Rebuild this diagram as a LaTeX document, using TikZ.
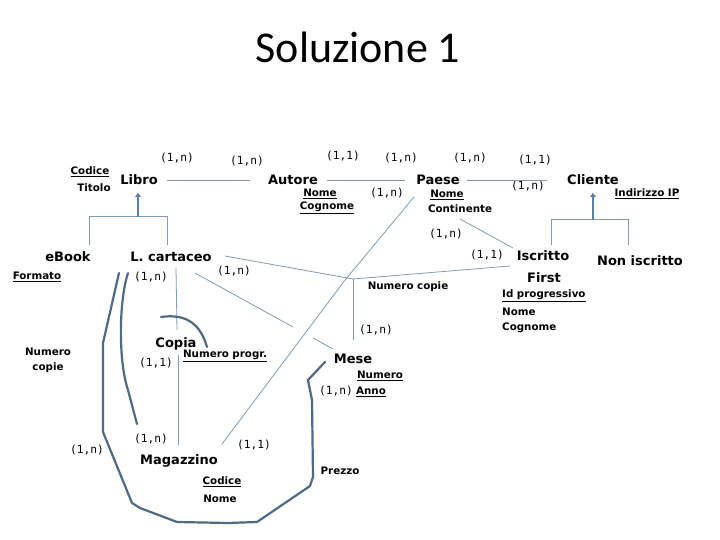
\documentclass[tikz,border=0pt]{standalone}
\usepackage{fontspec}
\setmainfont{DejaVu Sans}
\newfontfamily\titlefont{Carlito}
\newfontfamily\cardfont{DejaVu Sans Mono}
\usetikzlibrary{arrows.meta}
\definecolor{thinc}{HTML}{7F9CB3}
\definecolor{thickc}{HTML}{4D6A87}
\definecolor{genc}{HTML}{5A82A8}
\begin{document}
\begin{tikzpicture}[x=1pt,y=-1pt,
 ent/.style={font=\bfseries\fontsize{13}{15}\selectfont, inner sep=0pt},
 att/.style={font=\bfseries\fontsize{10.3}{12}\selectfont, inner sep=0pt},
 card/.style={font=\cardfont\fontsize{11.2}{13}\selectfont, inner sep=0pt},
 thinline/.style={draw=thinc, line width=0.8pt},
 thickline/.style={draw=thickc, line width=2.2pt, line join=round, line cap=round},
 genline/.style={draw=thinc, line width=1pt},
 genarrow/.style={draw=genc, line width=2.4pt, -{Triangle[length=4pt,width=6pt]}},
]
\useasboundingbox (0,0) rectangle (720,540);
\fill[white] (0,0) rectangle (720,540);

% title
\node[font=\titlefont\fontsize{44}{48}\selectfont, inner sep=0pt] (title) at (358,47) {Soluzione 1};

% entities
\node[ent] (libro) at (139,180) {Libro};
\node[ent] (autore) at (293,180) {Autore};
\node[ent] (paese) at (438,180) {Paese};
\node[ent] (cliente) at (593,180) {Cliente};
\node[ent] (ebook) at (68,257) {eBook};
\node[ent] (lcart) at (171,257) {L. cartaceo};
\node[ent] (iscritto) at (543,256) {Iscritto};
\node[ent] (first) at (544,278) {First};
\node[ent] (noniscr) at (640,261) {Non iscritto};
\node[ent] (copia) at (176,344) {Copia};
\node[ent] (mese) at (353,359) {Mese};
\node[ent] (magazzino) at (179,461) {Magazzino};

% attributes
\node[att] (a1) at (90,172) {\underline{Codice}};
\node[att] (a2) at (94,188) {Titolo};
\node[att] (a3) at (320,194) {\underline{Nome}};
\node[att] (a4) at (327,208) {\underline{Cognome}};
\node[att] (a5) at (447,195) {\underline{Nome}};
\node[att] (a6) at (460,209) {Continente};
\node[att] (a7) at (647,194) {\underline{Indirizzo IP}};
\node[att] (a8) at (37,277) {\underline{Formato}};
\node[att] (a9) at (408,287) {Numero copie};
\node[att, anchor=west] (a10) at (502,296) {\underline{Id progressivo}};
\node[att, anchor=west] (a11) at (502,312) {Nome};
\node[att, anchor=west] (a12) at (502,328) {Cognome};
\node[att] (a13) at (48,352) {Numero};
\node[att] (a14) at (48,368) {copie};
\node[att] (a15) at (225,356) {\underline{Numero progr.}};
\node[att] (a16) at (380,376) {\underline{Numero}};
\node[att] (a17) at (371,392) {\underline{Anno}};
\node[att] (a18) at (340,471) {Prezzo};
\node[att] (a19) at (222,482) {\underline{Codice}};
\node[att] (a20) at (220,499) {Nome};

% cardinalities
\node[card] (c1) at (177,158) {(1,n)};
\node[card] (c2) at (247,161) {(1,n)};
\node[card] (c3) at (343,156) {(1,1)};
\node[card] (c4) at (401,158) {(1,n)};
\node[card] (c5) at (470,158) {(1,n)};
\node[card] (c6) at (387,193) {(1,n)};
\node[card] (c7) at (535,160) {(1,1)};
\node[card] (c8) at (528,186) {(1,n)};
\node[card] (c9) at (446,234) {(1,n)};
\node[card] (c10) at (151,277) {(1,n)};
\node[card] (c11) at (234,271) {(1,n)};
\node[card] (c12) at (487,255) {(1,1)};
\node[card] (c13) at (156,363) {(1,1)};
\node[card] (c14) at (376,330) {(1,n)};
\node[card] (c15) at (336,391) {(1,n)};
\node[card] (c16) at (87,450) {(1,n)};
\node[card] (c17) at (151,439) {(1,n)};
\node[card] (c18) at (254,445) {(1,1)};

% coordinates for connectors
\coordinate (libR) at (167,180);
\coordinate (autL) at (250,180);
\coordinate (autR) at (327,180);
\coordinate (paeL) at (405,180);
\coordinate (paeR) at (467,180);
\coordinate (cliL) at (547,180);
\coordinate (libGb) at (138,217);
\coordinate (libGt) at (138,193);
\coordinate (libGl) at (89,217);
\coordinate (libGr) at (167,217);
\coordinate (ebT) at (89,245);
\coordinate (lcT) at (167,245);
\coordinate (cliGb) at (593,220);
\coordinate (cliGt) at (593,193);
\coordinate (cliGl) at (551,220);
\coordinate (cliGr) at (628,220);
\coordinate (isT) at (551,245);
\coordinate (niT) at (628,245);
\coordinate (paeS) at (460,219);
\coordinate (isW) at (513,248);
\coordinate (paeSW) at (414,197);
\coordinate (kink) at (345,280);
\coordinate (magNE) at (222,444);
\coordinate (lcE) at (225,256);
\coordinate (J) at (353,279);
\coordinate (isSW) at (510,266);
\coordinate (meseN) at (353,340);
\coordinate (lcSE) at (195,273);
\coordinate (gapA) at (293,327);
\coordinate (gapB) at (313,338);
\coordinate (meseNW) at (333,349);
\coordinate (lcS) at (176,268);
\coordinate (copN) at (177,330);
\coordinate (copS) at (178,355);
\coordinate (magN) at (178,445);

% relationship lines
\draw[thinline] (libR) -- (autL);
\draw[thinline] (autR) -- (paeL);
\draw[thinline] (paeR) -- (cliL);
\draw[thinline] (paeS) -- (isW);
\draw[thinline] (paeSW) -- (kink) -- (magNE);
\draw[thinline] (lcE) -- (J);
\draw[thinline] (isSW) -- (J);
\draw[thinline] (J) -- (meseN);
\draw[thinline] (lcSE) -- (gapA);
\draw[thinline] (gapB) -- (meseNW);
\draw[thinline] (lcS) -- (copN);
\draw[thinline] (copS) -- (magN);

% generalizations
\draw[genline] (ebT) -- (libGl) -- (libGr) -- (lcT);
\draw[genarrow] (libGb) -- (libGt);
\draw[genline] (isT) -- (cliGl) -- (cliGr) -- (niT);
\draw[genarrow] (cliGb) -- (cliGt);

% thick hand-drawn lines
\coordinate (o1) at (119,273);
\coordinate (o2) at (103,343);
\coordinate (o3) at (103,432);
\coordinate (o4) at (132,503);
\coordinate (o5) at (140,508);
\coordinate (o6) at (177,522);
\coordinate (o7) at (228,523);
\coordinate (o8) at (257,522);
\coordinate (o9) at (310,486);
\coordinate (o10) at (313,477);
\coordinate (o11) at (312,400);
\coordinate (o12) at (308,380);
\coordinate (o13) at (325,362);
\draw[thickline] (o1) -- (o2) -- (o3) -- (o4) -- (o5) -- (o6) -- (o7) -- (o8) -- (o9) -- (o10) -- (o11) -- (o12) -- (o13);

\coordinate (i1) at (128,273);
\coordinate (i3) at (128,390);
\coordinate (i4) at (137,424);
\draw[thickline] (i1) .. controls (119,300) and (118,360) .. (i3) -- (i4);

\coordinate (arcA) at (161,317);
\coordinate (arcB) at (207,347);
\draw[thickline] (arcA) .. controls (188,313) and (201,326) .. (arcB);
\end{tikzpicture}
\end{document}
